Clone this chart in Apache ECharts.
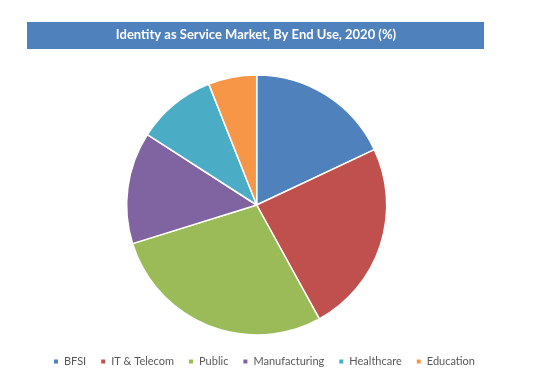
<!DOCTYPE html>
<html><head><meta charset="utf-8">
<script src="https://cdn.jsdelivr.net/npm/echarts@6/dist/echarts.min.js"></script>
<style>html,body{margin:0;padding:0;background:#fff}#c{width:538px;height:384px}</style>
</head><body><div id="c"></div>
<script>
const categories = ['BFSI', 'IT & Telecom', 'Public', 'Manufacturing', 'Healthcare', 'Education'];
const values = [18.0, 24.0, 28.2, 13.9, 9.9, 6.0];
const colors = ['#4F81BD', '#C0504D', '#9BBB59', '#8064A2', '#4BACC6', '#F79646'];
const titleText = 'Identity as Service Market, By End Use, 2020 (%)';

const chart = echarts.init(document.getElementById('c'), null, {renderer: 'canvas'});
chart.setOption({
  animation: false,
  color: colors,
  graphic: [
    {type: 'rect', shape: {x: 27, y: 22, width: 457, height: 27}, style: {fill: '#4F81BD'}},
    {type: 'text', x: 256, y: 35, style: {text: titleText, fill: '#fff', font: 'bold 13px Lato', textAlign: 'center', textVerticalAlign: 'middle'}}
  ],
  legend: {
    data: categories,
    left: 47,
    top: 351,
    padding: 5,
    icon: 'rect',
    itemWidth: 6,
    itemHeight: 6,
    itemGap: 13,
    textStyle: {color: '#595959', fontSize: 11, fontFamily: 'Lato'}
  },
  series: [{
    type: 'pie',
    center: [256.7, 205],
    radius: 130,
    startAngle: 90,
    clockwise: true,
    label: {show: false},
    labelLine: {show: false},
    itemStyle: {borderColor: '#fff', borderWidth: 1.5},
    data: categories.map((c, i) => ({name: c, value: values[i]}))
  }]
});
</script></body></html>
